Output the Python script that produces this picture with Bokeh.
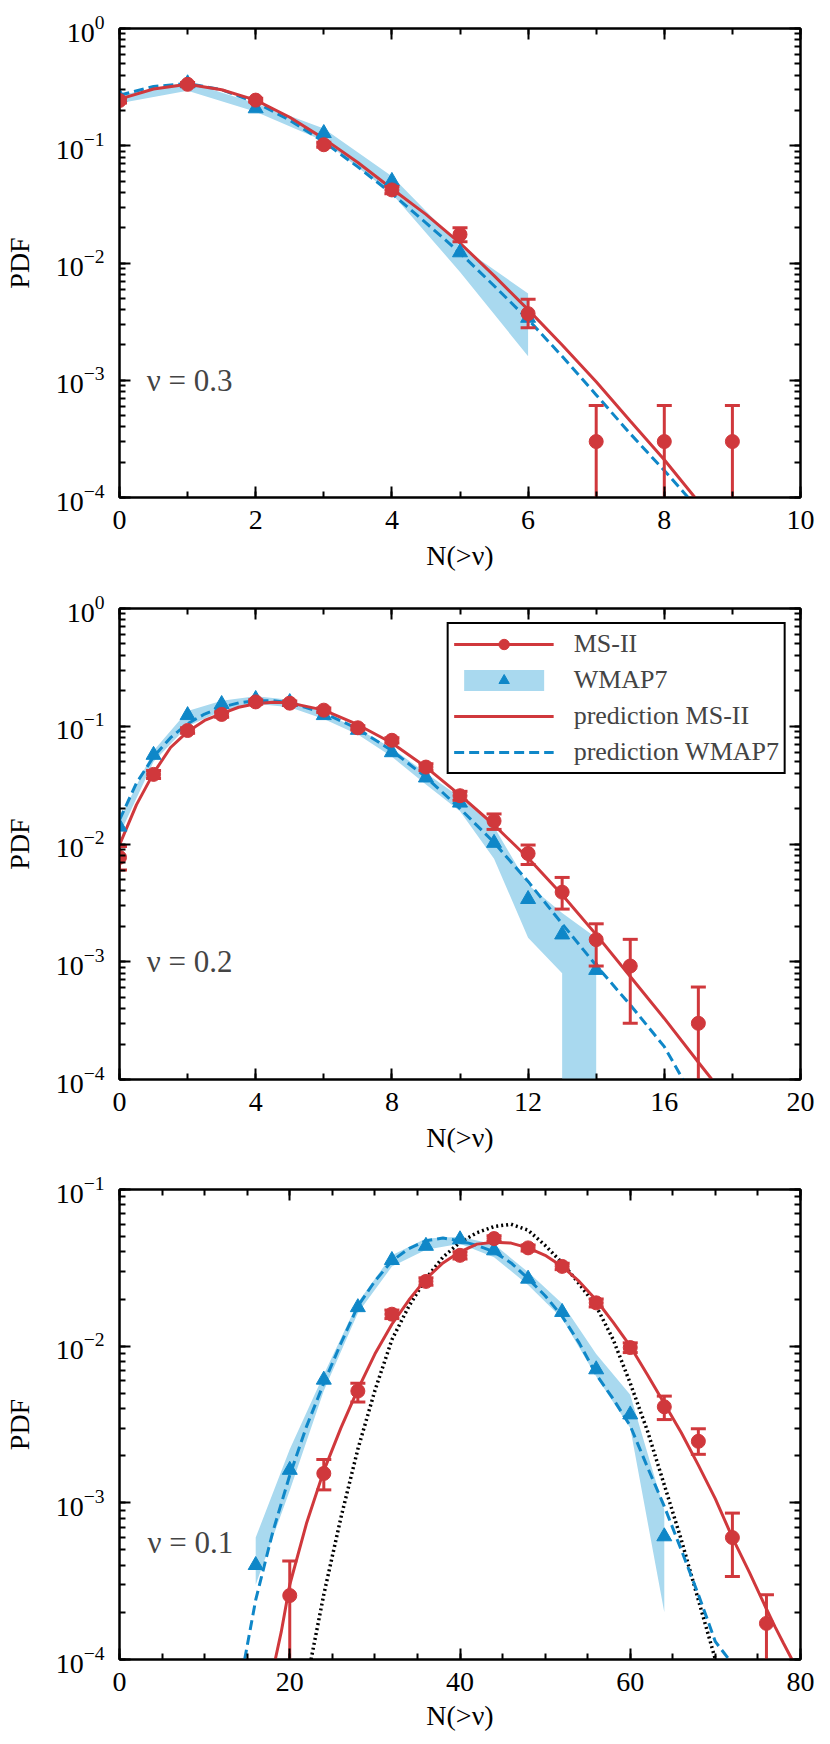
from bokeh.plotting import figure
from bokeh.models import (LogAxis, LinearAxis, SingleIntervalTicker, LogTicker,
                          Label, Legend, LegendItem, Range1d, CustomJSTickFormatter)
from bokeh.layouts import column
from bokeh.embed import file_html
from bokeh.resources import INLINE

FONT = "Liberation Serif"
RED = "#d0383c"
BLUE = "#0f87c8"
BAND = "#a9d9ef"

# ---------------- Panel 1 : nu = 0.3 ----------------
p1_ms_x = [0, 1, 2, 3, 4, 5, 6, 7, 8, 9]
p1_ms_y = [0.243, 0.334, 0.245, 0.102, 0.042, 0.0175, 0.0037, 0.0003, 0.0003, 0.0003]
p1_ms_lo = [0.232, 0.322, 0.236, 0.097, 0.039, 0.0152, 0.0028, 0.0, 0.0, 0.0]
p1_ms_hi = [0.254, 0.346, 0.254, 0.107, 0.045, 0.020, 0.0049, 0.00061, 0.00061, 0.00061]
p1_wm_x = [0, 1, 2, 3, 4, 5, 6]
p1_wm_y = [0.26, 0.34, 0.208, 0.128, 0.05, 0.0123, 0.0034]
p1_band_lo = [0.23, 0.295, 0.195, 0.11, 0.039, 0.0084, 0.0016]
p1_band_hi = [0.27, 0.35, 0.23, 0.14, 0.055, 0.014, 0.0055]
p1_pms_x = [0, 0.5, 1, 1.5, 2, 2.5, 3, 3.5, 4, 4.5, 5, 5.5, 6, 6.5, 7, 7.5, 8, 8.45]
p1_pms_y = [0.25, 0.305, 0.335, 0.30, 0.245, 0.175, 0.115, 0.072, 0.043, 0.026, 0.0148,
            0.0078, 0.0040, 0.0020, 0.00097, 0.00045, 0.00021, 0.0001]
p1_pwm_x = [0, 0.5, 1, 1.5, 2, 2.5, 3, 3.5, 4, 4.5, 5, 5.5, 6, 6.5, 7, 7.5, 8, 8.35]
p1_pwm_y = [0.27, 0.32, 0.34, 0.30, 0.235, 0.165, 0.108, 0.066, 0.039, 0.022, 0.0122,
            0.0064, 0.0033, 0.0016, 0.00075, 0.00035, 0.00017, 0.0001]

# ---------------- Panel 2 : nu = 0.2 ----------------
p2_ms_x = [0, 1, 2, 3, 4, 5, 6, 7, 8, 9, 10, 11, 12, 13, 14, 15, 17]
p2_ms_y = [0.0077, 0.039, 0.092, 0.126, 0.161, 0.157, 0.137, 0.097, 0.076, 0.045, 0.0257,
           0.0157, 0.0083, 0.0039, 0.00154, 0.00092, 0.0003]
p2_ms_lo = [0.0060, 0.036, 0.087, 0.119, 0.154, 0.150, 0.131, 0.093, 0.072, 0.042, 0.0235,
            0.0133, 0.0067, 0.0028, 0.00092, 0.0003, 0.0]
p2_ms_hi = [0.0095, 0.042, 0.097, 0.133, 0.168, 0.164, 0.143, 0.101, 0.080, 0.048, 0.028,
            0.018, 0.0098, 0.0052, 0.0021, 0.00155, 0.00061]
p2_wm_x = [0, 1, 2, 3, 4, 5, 6, 7, 8, 9, 10, 11, 12, 13, 14]
p2_wm_y = [0.014, 0.057, 0.124, 0.154, 0.17, 0.16, 0.124, 0.093, 0.060, 0.0366, 0.0224,
           0.0102, 0.0034, 0.0017, 0.00085]
p2_band_x = [0, 1, 2, 3, 4, 5, 6, 7, 8, 9, 10, 11, 12, 13, 13, 14]
p2_band_lo = [0.012, 0.05, 0.10, 0.135, 0.155, 0.145, 0.115, 0.085, 0.055, 0.032, 0.019,
              0.0075, 0.0016, 0.0008, 0.0, 0.0]
p2_band_hi = [0.016, 0.062, 0.135, 0.165, 0.18, 0.168, 0.13, 0.095, 0.065, 0.040, 0.025,
              0.014, 0.0045, 0.0026, 0.0026, 0.0016]
p2_pms_x = [0, 0.5, 1, 1.5, 2, 2.5, 3, 3.5, 4, 4.5, 5, 6, 7, 8, 9, 10, 11, 12, 13, 14, 15,
            16, 17, 17.4]
p2_pms_y = [0.0098, 0.0216, 0.040, 0.066, 0.090, 0.112, 0.128, 0.145, 0.155, 0.160, 0.158,
            0.137, 0.103, 0.072, 0.045, 0.026, 0.0145, 0.0076, 0.0037, 0.0017, 0.00075,
            0.00033, 0.00014, 0.0001]
p2_pwm_x = [0, 0.5, 1, 1.5, 2, 2.5, 3, 3.5, 4, 4.5, 5, 6, 7, 8, 9, 10, 11, 12, 13, 14, 15,
            16, 16.55]
p2_pwm_y = [0.016, 0.033, 0.055, 0.08, 0.105, 0.127, 0.145, 0.158, 0.165, 0.165, 0.158,
            0.13, 0.095, 0.062, 0.037, 0.020, 0.0103, 0.0048, 0.0021, 0.00093, 0.00043,
            0.00019, 0.0001]

# ---------------- Panel 3 : nu = 0.1 ----------------
p3_ms_x = [20, 24, 28, 32, 36, 40, 44, 48, 52, 56, 60, 64, 68, 72, 76]
p3_ms_y = [0.000256, 0.00154, 0.00517, 0.016, 0.0259, 0.038, 0.0486, 0.0424, 0.0323,
           0.0189, 0.0098, 0.0041, 0.00247, 0.0006, 0.00017]
p3_ms_lo = [0.0, 0.00121, 0.0044, 0.0150, 0.0245, 0.0360, 0.0465, 0.0405, 0.0308,
            0.0178, 0.0091, 0.0034, 0.00204, 0.000339, 0.0]
p3_ms_hi = [0.000426, 0.00189, 0.0058, 0.0170, 0.0273, 0.0400, 0.0507, 0.0443, 0.0338,
            0.0200, 0.0105, 0.0048, 0.00297, 0.00086, 0.000259]
p3_wm_x = [16, 20, 24, 28, 32, 36, 40, 44, 48, 52, 56, 60, 64]
p3_wm_y = [0.0004, 0.00162, 0.0061, 0.0177, 0.0354, 0.0436, 0.048, 0.0408, 0.0269,
           0.0165, 0.0071, 0.00366, 0.00061]
p3_band_lo = [0.00030, 0.0012, 0.0052, 0.0163, 0.0322, 0.0413, 0.045, 0.037, 0.0246,
              0.015, 0.0064, 0.003, 0.0002]
p3_band_hi = [0.0006, 0.0022, 0.0066, 0.019, 0.038, 0.0486, 0.050, 0.0447, 0.0297,
              0.0187, 0.0089, 0.0049, 0.0009]
p3_pms_x = [18.3, 19, 20, 22, 24, 26, 28, 30, 32, 34, 36, 38, 40, 42, 44, 46, 48, 50, 52,
            54, 56, 58, 60, 62, 64, 66, 68, 70, 72, 74, 76, 77, 78, 79]
p3_pms_y = [0.0001, 0.00015, 0.0003, 0.00075, 0.0016, 0.003, 0.0053, 0.0089, 0.0138,
            0.0197, 0.0269, 0.034, 0.040, 0.0448, 0.046, 0.0455, 0.0424, 0.038, 0.0323,
            0.0259, 0.0197, 0.0142, 0.0100, 0.0066, 0.0043, 0.0028, 0.00174, 0.00106,
            0.0006, 0.00036, 0.00021, 0.000162, 0.000127, 0.0001]
p3_pwm_x = [14.7, 16, 18, 20, 22, 24, 26, 28, 30, 32, 34, 36, 38, 40, 42, 44, 46, 48, 50,
            52, 54, 56, 58, 60, 62, 64, 66, 68, 70, 71.6]
p3_pwm_y = [0.0001, 0.00024, 0.00065, 0.0015, 0.0031, 0.0058, 0.0104, 0.018, 0.026, 0.035,
            0.042, 0.047, 0.049, 0.047, 0.044, 0.040, 0.034, 0.027, 0.021, 0.0155, 0.0105,
            0.0066, 0.0046, 0.0031, 0.0017, 0.00095, 0.0005, 0.00026, 0.00013, 0.0001]
p3_gauss_x = [22.5, 24, 26, 28, 30, 32, 34, 36, 38, 40, 42, 44, 46, 48, 50, 52, 54, 56, 58,
              60, 62, 64, 66, 68, 70]
p3_gauss_y = [0.0001, 0.00026, 0.0008, 0.0022, 0.0052, 0.011, 0.018, 0.027, 0.037, 0.046,
              0.053, 0.058, 0.060, 0.055, 0.044, 0.034, 0.025, 0.018, 0.011, 0.0058, 0.0029,
              0.0013, 0.00058, 0.00024, 0.0001]

W = 830
TINY = 1e-9


def pos(v):
    return [a if a > 0 else TINY for a in v]


def make_panel(xr, yr, xint, nminor, height, btop, bbot, lab_off, nu_text, nu_x, nu_y):
    p = figure(width=W, height=height, x_range=Range1d(*xr), y_range=Range1d(*yr),
               y_axis_type="log", output_backend="svg", toolbar_location=None,
               min_border_left=115, min_border_right=30, min_border_top=btop,
               min_border_bottom=bbot)
    p.grid.visible = False
    p.outline_line_color = "black"
    p.outline_line_width = 2
    p.background_fill_color = "white"
    p.border_fill_color = "white"

    bottom = p.below[0]
    left = p.left[0]
    bottom.ticker = SingleIntervalTicker(interval=xint, num_minor_ticks=nminor)
    left.ticker = LogTicker(num_minor_ticks=10)
    top = LinearAxis(ticker=SingleIntervalTicker(interval=xint, num_minor_ticks=nminor),
                     formatter=CustomJSTickFormatter(code="return '';"))
    right = LogAxis(ticker=LogTicker(num_minor_ticks=10),
                    formatter=CustomJSTickFormatter(code="return '';"))
    p.add_layout(top, "above")
    p.add_layout(right, "right")
    for ax in [bottom, left, top, right]:
        ax.axis_line_width = 2
        ax.major_tick_in = 11
        ax.major_tick_out = 0
        ax.minor_tick_in = 6
        ax.minor_tick_out = 0
        ax.major_tick_line_width = 2
        ax.minor_tick_line_width = 2
        ax.major_label_text_font = FONT
        ax.major_label_text_font_size = "28px"
        ax.major_label_text_color = "black"
        ax.axis_label_text_font = FONT
        ax.axis_label_text_font_style = "normal"
        ax.axis_label_text_font_size = "28px"
        ax.axis_label_text_color = "black"
    for ax in [top, right]:
        ax.major_label_standoff = 0
        ax.major_label_text_font_size = "1px"
    bottom.axis_label = "N(>ν)"
    bottom.major_label_standoff = 13
    bottom.axis_label_standoff = lab_off
    left.axis_label = "PDF"
    left.major_label_standoff = 15
    left.axis_label_standoff = 18
    p.add_layout(Label(x=nu_x, y=nu_y, text=nu_text, text_font=FONT,
                       text_font_size="31px", text_baseline="middle", text_align="left"))
    return p


def draw(p, ms_x, ms_y, ms_lo, ms_hi, wm_x, wm_y, band_x, band_lo, band_hi,
         pms_x, pms_y, pwm_x, pwm_y, gx=None, gy=None):
    band = p.varea(x=band_x, y1=pos(band_lo), y2=band_hi, fill_color=BAND, fill_alpha=1.0)
    if gx is not None:
        p.line(gx, gy, line_color="black", line_width=3.5, line_dash="2 3")
    lwm = p.line(pwm_x, pwm_y, line_color=BLUE, line_width=3, line_dash="10 5")
    lms = p.line(pms_x, pms_y, line_color=RED, line_width=3)
    tri = p.scatter(wm_x, wm_y, marker="triangle", size=15, fill_color=BLUE,
                    line_color=BLUE)
    seg = p.segment(x0=ms_x, y0=pos(ms_lo), x1=ms_x, y1=ms_hi, line_color=RED,
                    line_width=3)
    p.scatter(ms_x, ms_hi, marker="dash", size=15, line_color=RED, line_width=3)
    p.scatter(ms_x, pos(ms_lo), marker="dash", size=15, line_color=RED, line_width=3)
    circ = p.scatter(ms_x, ms_y, marker="circle", size=14, fill_color=RED, line_color=RED)
    return band, lwm, lms, tri, seg, circ


# figure heights: 28+469+86 = 583, 25+471+86 = 582, 24+470+85 = 579  (total 1744)
p1 = make_panel((0, 10), (1e-4, 1), 2, 2, 583, 28, 86, 8, "ν = 0.3", 0.4, 1e-3)
draw(p1, p1_ms_x, p1_ms_y, p1_ms_lo, p1_ms_hi, p1_wm_x, p1_wm_y, p1_wm_x, p1_band_lo,
     p1_band_hi, p1_pms_x, p1_pms_y, p1_pwm_x, p1_pwm_y)

p2 = make_panel((0, 20), (1e-4, 1), 4, 2, 582, 25, 86, 8, "ν = 0.2", 0.8, 1e-3)
band, lwm, lms, tri, seg, circ = draw(p2, p2_ms_x, p2_ms_y, p2_ms_lo, p2_ms_hi, p2_wm_x,
                                      p2_wm_y, p2_band_x, p2_band_lo, p2_band_hi,
                                      p2_pms_x, p2_pms_y, p2_pwm_x, p2_pwm_y)
legend = Legend(items=[
    LegendItem(label="MS-II", renderers=[seg, circ]),
    LegendItem(label="WMAP7", renderers=[band, tri]),
    LegendItem(label="prediction MS-II", renderers=[lms]),
    LegendItem(label="prediction WMAP7", renderers=[lwm]),
], location="top_right")
legend.margin = 14
legend.border_line_color = "black"
legend.border_line_alpha = 1.0
legend.border_line_width = 2
legend.background_fill_color = "white"
legend.background_fill_alpha = 1.0
legend.label_text_font = FONT
legend.label_text_font_size = "26px"
legend.glyph_width = 100
legend.glyph_height = 26
legend.label_height = 26
legend.spacing = 6
legend.padding = 5
legend.label_standoff = 20
p2.add_layout(legend)

p3 = make_panel((0, 80), (1e-4, 1e-1), 20, 4, 579, 24, 85, 6, "ν = 0.1", 3.3, 5.6e-4)
draw(p3, p3_ms_x, p3_ms_y, p3_ms_lo, p3_ms_hi, p3_wm_x, p3_wm_y, p3_wm_x, p3_band_lo,
     p3_band_hi, p3_pms_x, p3_pms_y, p3_pwm_x, p3_pwm_y, p3_gauss_x, p3_gauss_y)

layout = column(p1, p2, p3)
open("out.html", "w").write(file_html(layout, INLINE))
